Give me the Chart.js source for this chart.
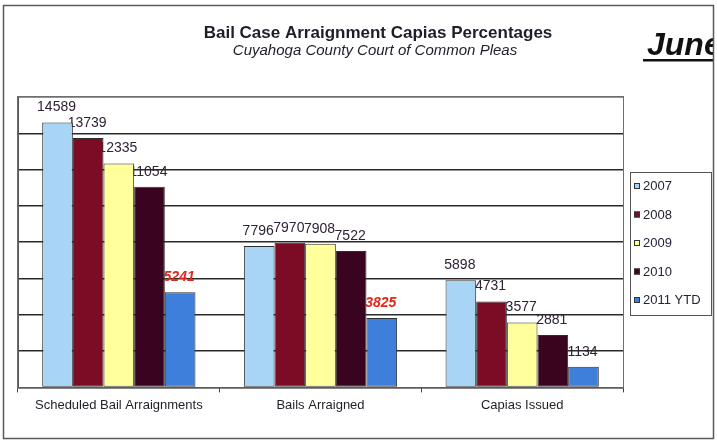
<!DOCTYPE html>
<html>
<head>
<meta charset="utf-8">
<script src="https://cdn.jsdelivr.net/npm/chart.js@4.4.1/dist/chart.umd.min.js"></script>
<style>
  body { margin: 0; background: #fff; }
  canvas { display: block; }
</style>
</head>
<body>
<canvas id="capiasChart" width="717" height="441"></canvas>
<script>
var categories = ['Scheduled Bail Arraignments', 'Bails Arraigned', 'Capias Issued'];
var seriesNames = ['2007', '2008', '2009', '2010', '2011 YTD'];
var values2007 = [14589, 7796, 5898];
var values2008 = [13739, 7970, 4731];
var values2009 = [12335, 7908, 3577];
var values2010 = [11054, 7522, 2881];
var values2011 = [5241, 3825, 1134];
var seriesColors = ['#a8d4f6', '#7c0b25', '#ffff9c', '#3a0420', '#3e7fdb'];
var yMax = 16000;
var yStep = 2000;

var allValues = [values2007, values2008, values2009, values2010, values2011];
var datasets = [];
for (let i = 0; i < seriesNames.length; i++) {
    datasets.push({
        label: seriesNames[i],
        data: allValues[i],
        backgroundColor: seriesColors[i],
        borderColor: '#2e2e2e',
        borderWidth: 1,
        borderSkipped: false,
        barPercentage: 1.0,
        categoryPercentage: 0.76,
    });
}

// value labels go under the bars, like the original, so taller bars hide the first digit
var barValues = {
    id: 'barValues',
    beforeDatasetsDraw(chart) {
        let ctx = chart.ctx;
        ctx.save();
        ctx.textAlign = 'center';
        ctx.textBaseline = 'middle';
        chart.data.datasets.forEach(function (ds, i) {
            let meta = chart.getDatasetMeta(i);
            let ytd = i == chart.data.datasets.length - 1;
            meta.data.forEach(function (bar, j) {
                if (ytd && j < 2) {
                    ctx.font = 'italic bold 14px "Liberation Sans", Arial, sans-serif';
                    ctx.fillStyle = '#e3261b';
                } else {
                    ctx.font = '14px "Liberation Sans", Arial, sans-serif';
                    ctx.fillStyle = '#2f2236';
                }
                ctx.fillText(String(ds.data[j]), bar.x - 1, bar.y - 15);
            });
        });
        ctx.restore();
    }
};

var frameAndText = {
    id: 'frameAndText',
    afterDraw(chart) {
        let ctx = chart.ctx;
        let area = chart.chartArea;
        ctx.save();

        // plot area box
        ctx.strokeStyle = '#6e6e6e';
        ctx.lineWidth = 1;
        ctx.strokeRect(area.left - 0.5, area.top - 0.5, area.right - area.left + 1, area.bottom - area.top + 1);

        // titles
        ctx.fillStyle = '#1e1e2a';
        ctx.textAlign = 'center';
        ctx.textBaseline = 'middle';
        ctx.font = 'bold 17px "Liberation Sans", Arial, sans-serif';
        ctx.fillText('Bail Case Arraignment Capias Percentages', 378, 33);
        ctx.font = 'italic 15px "Liberation Sans", Arial, sans-serif';
        ctx.fillText('Cuyahoga County Court of Common Pleas', 375, 51);

        // "June" runs off the right edge of the slide
        ctx.save();
        ctx.beginPath();
        ctx.rect(0, 0, 714, 441);
        ctx.clip();
        ctx.textAlign = 'left';
        ctx.textBaseline = 'alphabetic';
        ctx.font = 'italic bold 32px "Liberation Sans", Arial, sans-serif';
        ctx.fillStyle = '#111';
        ctx.fillText('June', 647, 55);
        ctx.fillRect(643, 59, 80, 2.5);
        ctx.restore();

        // outer frame
        ctx.strokeStyle = '#5a5a5a';
        ctx.lineWidth = 1.5;
        ctx.strokeRect(3.5, 5.5, 710, 433);

        // legend box
        ctx.strokeStyle = '#555';
        ctx.lineWidth = 1;
        ctx.strokeRect(630.5, 172.5, 81, 143);
        ctx.font = '13px "Liberation Sans", Arial, sans-serif';
        ctx.textAlign = 'left';
        ctx.textBaseline = 'middle';
        chart.data.datasets.forEach(function (ds, i) {
            let y = 186 + i * 28.5;
            ctx.fillStyle = ds.backgroundColor;
            ctx.fillRect(634, y - 3, 6, 6);
            ctx.strokeStyle = '#333';
            ctx.strokeRect(634.5, y - 2.5, 5, 5);
            ctx.fillStyle = '#262236';
            ctx.fillText(ds.label, 643, y + 0.5);
        });
        ctx.restore();
    }
};

var ctx = document.getElementById('capiasChart').getContext('2d');
var capiasChart = new Chart(ctx, {
    type: 'bar',
    data: {
        labels: categories,
        datasets: datasets,
    },
    options: {
        responsive: false,
        animation: false,
        events: [],
        layout: {
            padding: {
                left: 18,
                right: 94,
                top: 97,
                bottom: 23,
            },
        },
        plugins: {
            legend: { display: false },
            tooltip: { enabled: false },
        },
        scales: {
            x: {
                grid: {
                    drawOnChartArea: false,
                    drawTicks: true,
                    tickLength: 5,
                    color: '#444',
                },
                border: { display: true, color: '#444', width: 1 },
                ticks: {
                    color: '#1e1e26',
                    padding: 5,
                    font: { family: '"Liberation Sans", Arial, sans-serif', size: 13 },
                },
            },
            y: {
                min: 0,
                max: yMax,
                ticks: { display: false, stepSize: yStep },
                grid: {
                    color: '#2a2a2a',
                    lineWidth: 1.5,
                    drawTicks: false,
                },
                border: { display: true, color: '#555' },
            },
        },
    },
    plugins: [barValues, frameAndText],
});
</script>
</body>
</html>
